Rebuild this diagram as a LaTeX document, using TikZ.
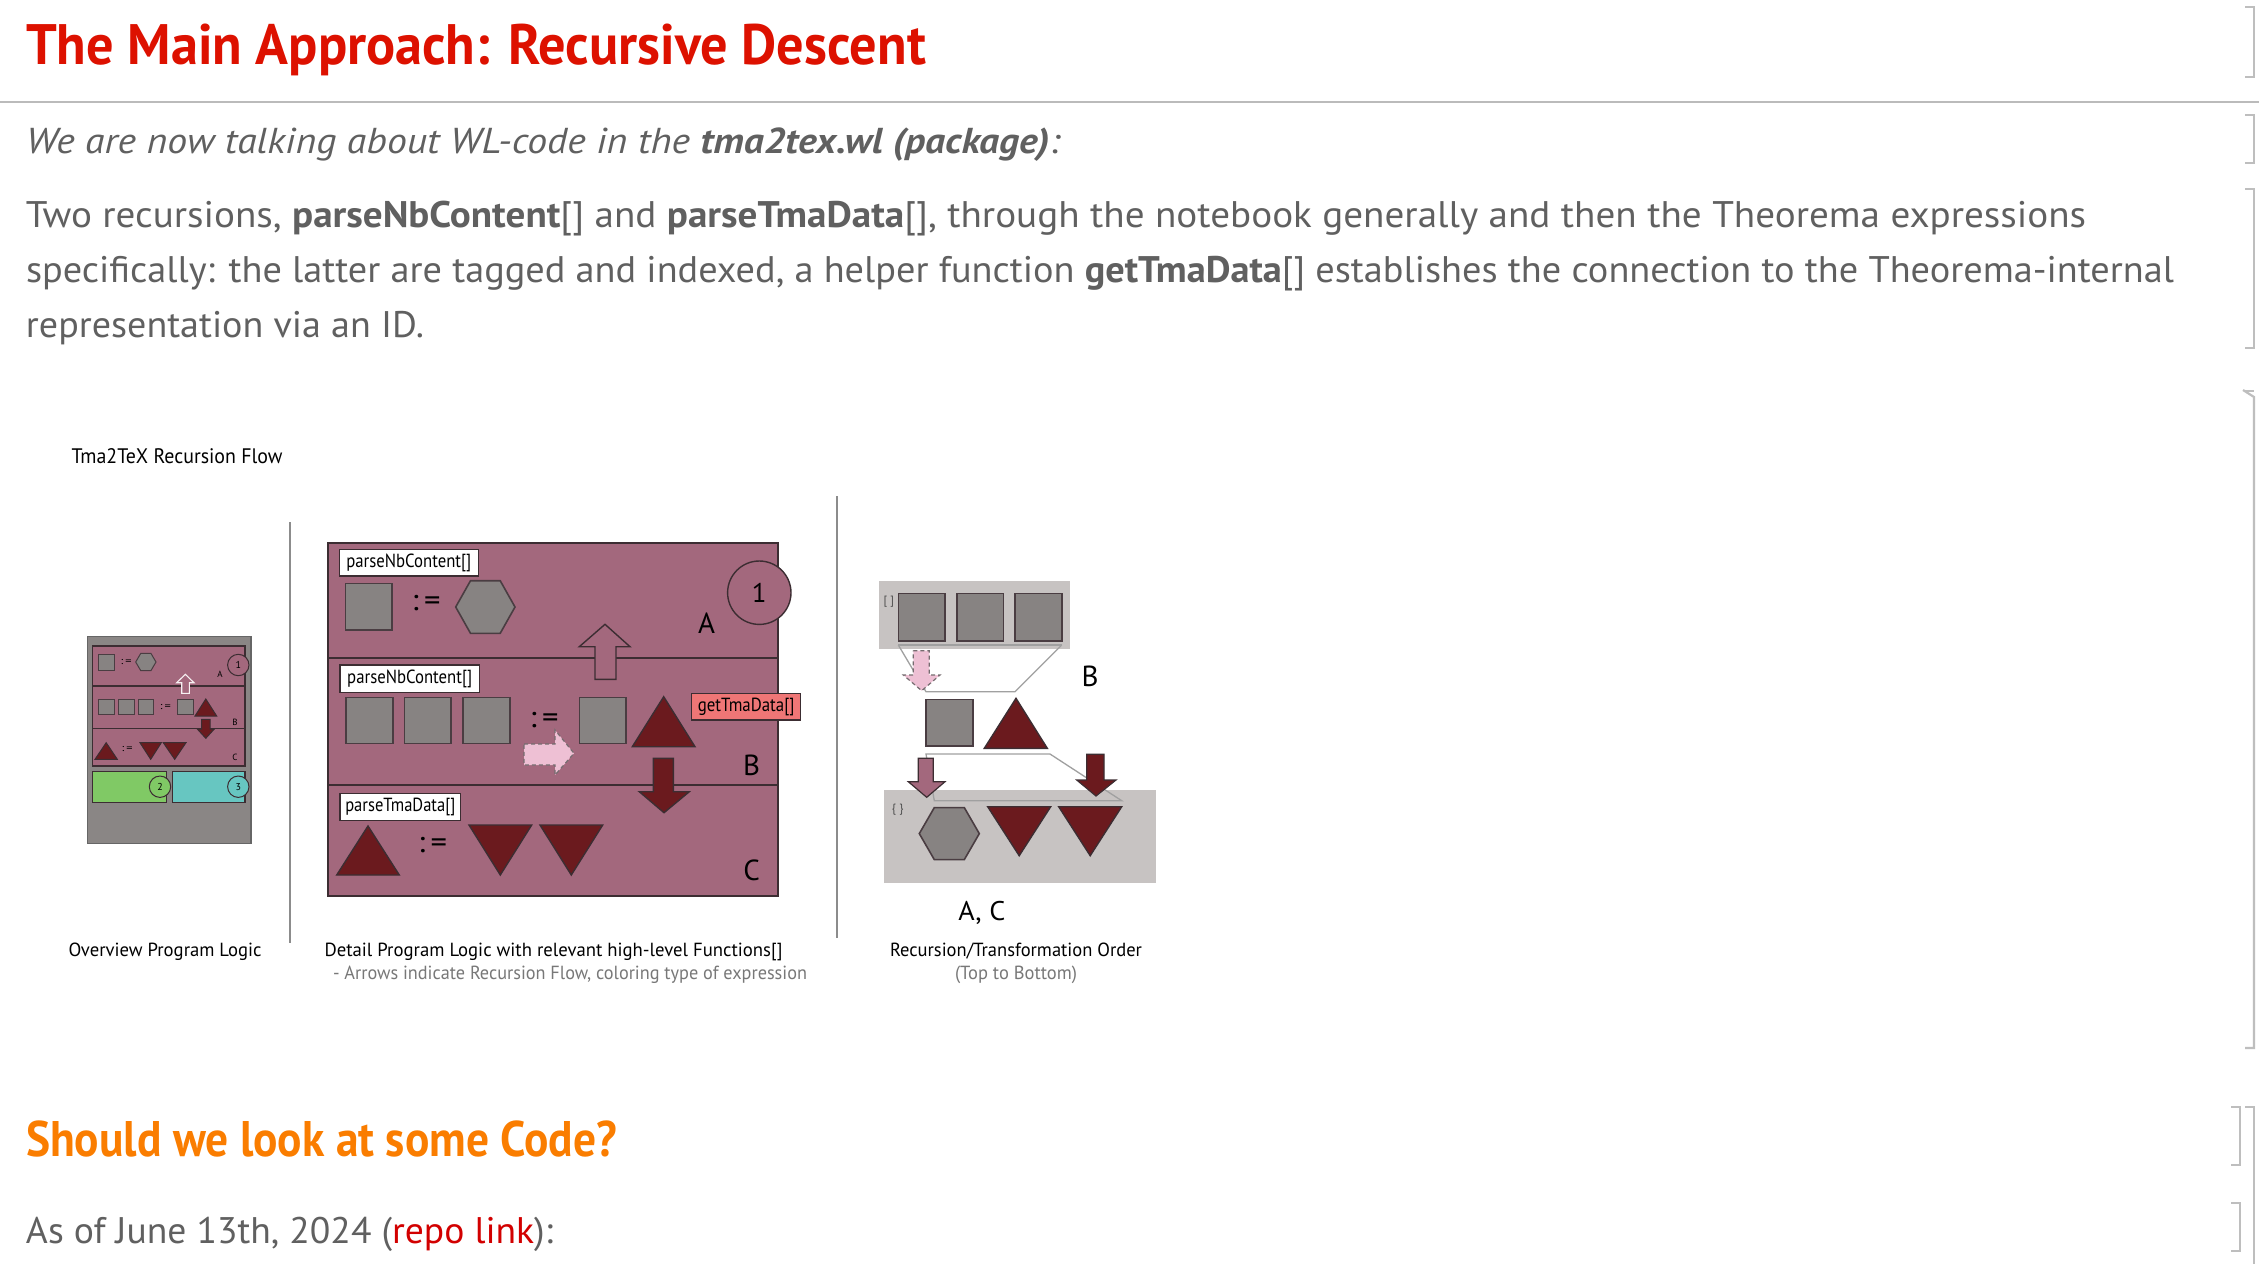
\documentclass[tikz,border=0pt]{standalone}
\usepackage{fontspec}
\setmainfont{PT Sans}
\usepackage{graphicx}
\definecolor{titlered}{RGB}{221,17,0}
\definecolor{bodygray}{RGB}{96,96,96}
\definecolor{sectorange}{RGB}{250,125,0}
\definecolor{linkred}{RGB}{210,0,0}
\definecolor{mauve}{RGB}{163,104,125}
\definecolor{darkred}{RGB}{107,26,30}
\definecolor{shapegray}{RGB}{135,131,130}
\definecolor{boxgray}{RGB}{138,134,133}
\definecolor{lightbox}{RGB}{199,195,194}
\definecolor{greenbox}{RGB}{128,201,101}
\definecolor{cyanbox}{RGB}{103,198,193}
\definecolor{salmon}{RGB}{239,118,118}
\definecolor{lightpink}{RGB}{238,192,212}
\definecolor{outl}{RGB}{60,45,50}
\definecolor{sepgray}{RGB}{140,140,140}
\definecolor{rulegray}{RGB}{187,187,187}
\definecolor{brgray}{RGB}{190,190,190}
\definecolor{capgray}{RGB}{120,120,120}
\definecolor{funnel}{RGB}{160,160,160}
\newcommand{\fitw}[2]{\resizebox{#1}{\height}{#2}}
\begin{document}
\begin{tikzpicture}[x=1pt,y=-1pt,
  txt/.style={anchor=base west, inner sep=0pt, outer sep=0pt},
  ctr/.style={anchor=center, inner sep=0pt, outer sep=0pt},
  panel/.style={fill=mauve, draw=outl, line width=1.8pt},
  gsq/.style={fill=shapegray, draw=outl!80!gray, line width=1.6pt},
  dshape/.style={fill=darkred, draw=outl, line width=1.4pt},
  lbl/.style={draw=outl, fill=white, line width=1.4pt, inner sep=0pt, font=\fontsize{19}{22}\selectfont},
  br/.style={draw=brgray, line width=2.2pt},
  fun/.style={draw=funnel, line width=1.3pt},
  sep/.style={draw=sepgray, line width=2pt},
  pinkarr/.style={fill=lightpink, draw=outl!70, line width=1.2pt, dashed, dash pattern=on 4pt off 3pt}
]
\useasboundingbox (0,0) rectangle (2259,1264);
\fill[white] (0,0) rectangle (2259,1264);

% ---------- notebook text ----------
\node[txt, text=titlered, font=\fontsize{57}{68}\selectfont\bfseries] (title) at (26,64)
  {\fitw{900pt}{The Main Approach: Recursive Descent}};
\draw[draw=rulegray, line width=2.5pt] (0,102) -- (2259,102);
\node[txt, text=bodygray, font=\fontsize{36}{43}\selectfont\itshape] (sub) at (26,153)
  {\fitw{1034pt}{We are now talking about WL-code in the \textbf{tma2tex.wl (package)}:}};
\node[txt, text=bodygray, font=\fontsize{37}{44}\selectfont] (p1) at (26,227)
  {\fitw{2060pt}{Two recursions, \textbf{parseNbContent}[] and \textbf{parseTmaData}[], through the notebook generally and then the Theorema expressions}};
\node[txt, text=bodygray, font=\fontsize{37}{44}\selectfont] (p2) at (26,282)
  {\fitw{2148pt}{specifically: the latter are tagged and indexed, a helper function \textbf{getTmaData}[] establishes the connection to the Theorema-internal}};
\node[txt, text=bodygray, font=\fontsize{37}{44}\selectfont] (p3) at (26,337)
  {\fitw{398pt}{representation via an ID.}};
\node[txt, text=sectorange, font=\fontsize{50}{60}\selectfont\bfseries] (sect) at (26,1156)
  {\fitw{591pt}{Should we look at some Code?}};
\node[txt, text=bodygray, font=\fontsize{37}{44}\selectfont] (asof) at (26,1243)
  {\fitw{527pt}{As of June 13th, 2024 (\textcolor{linkred}{repo link}):}};

% ---------- cell brackets ----------
\draw[br] (2245,7) -- (2254,7) -- (2254,77) -- (2245,77);
\draw[br] (2245,115) -- (2254,115) -- (2254,163) -- (2245,163);
\draw[br] (2245,189) -- (2254,189) -- (2254,348) -- (2245,348);
\draw[br] (2243,390) -- (2254,397) -- (2254,1048) -- (2245,1048);
\draw[br] (2245,391) -- (2254,391);
\draw[br] (2231,1107) -- (2240,1107) -- (2240,1165) -- (2231,1165);
\draw[br] (2245,1107) -- (2254,1107) -- (2254,1264);
\draw[br] (2231,1203) -- (2240,1203) -- (2240,1251) -- (2231,1251);

% ---------- diagram captions ----------
\node[txt, font=\fontsize{21}{25}\selectfont] (flowtitle) at (71.5,463) {\fitw{211pt}{Tma2TeX Recursion Flow}};
\node[txt, font=\fontsize{19}{23}\selectfont] (cap1) at (68.5,956) {\fitw{193pt}{Overview Program Logic}};
\node[txt, font=\fontsize{19}{23}\selectfont] (cap2) at (324.5,956) {\fitw{458pt}{Detail Program Logic with relevant high-level Functions[]}};
\node[txt, font=\fontsize{19}{23}\selectfont, text=capgray] (cap2b) at (333,979) {\fitw{474pt}{- Arrows indicate Recursion Flow, coloring type of expression}};
\node[txt, font=\fontsize{19}{23}\selectfont] (cap3) at (890,956) {\fitw{252pt}{Recursion/Transformation Order}};
\node[txt, font=\fontsize{19}{23}\selectfont, text=capgray] (cap3b) at (955,979) {\fitw{122pt}{(Top to Bottom)}};

% separators
\draw[sep] (290,522) -- (290,943);
\draw[sep] (836.5,496) -- (836.5,938);

% ---------- overview ----------
\draw[fill=boxgray, draw=black!60, line width=1.4pt] (87.3,636.7) rectangle (251,843.3);
\draw[panel, line width=1.2pt] (92.3,646) rectangle (245,766);
\draw[draw=outl, line width=1.2pt] (92.3,686) -- (245,686);
\draw[draw=outl, line width=1.2pt] (92.3,728.7) -- (245,728.7);
% row A
\draw[gsq, line width=1pt] (98.3,654) rectangle (114.3,670);
\node[ctr, font=\fontsize{10}{11}\selectfont] (oa) at (126,661.7) {\fitw{11pt}{:\,=}};
\draw[gsq, line width=1pt] (135.7,662) -- (140.8,653.3) -- (150.9,653.3) -- (156,662) -- (150.9,670.7) -- (140.8,670.7) -- cycle;
\node[ctr, font=\fontsize{9}{10}\selectfont] (oA) at (220,674) {A};
% up arrow (hollow)
\draw[fill=mauve, draw=white!90!mauve, line width=1.1pt] (185.3,674.3) -- (194,682.7) -- (189.3,682.7) -- (189.3,693.3) -- (181.7,693.3) -- (181.7,682.7) -- (176.7,682.7) -- cycle;
% row B
\draw[gsq, line width=1pt] (98.3,699) rectangle (114.3,714.7);
\draw[gsq, line width=1pt] (118.3,699) rectangle (134,714.7);
\draw[gsq, line width=1pt] (138,699) rectangle (153.7,714.7);
\node[ctr, font=\fontsize{10}{11}\selectfont] (ob) at (165.3,706.7) {\fitw{11pt}{:\,=}};
\draw[gsq, line width=1pt] (177.3,699) rectangle (193.3,714.7);
\draw[dshape, line width=1pt] (205.8,699) -- (216.7,716) -- (195,716) -- cycle;
\node[ctr, font=\fontsize{9}{10}\selectfont] (oB) at (235,722.7) {B};
\draw[dshape, line width=1pt] (201.7,719.3) -- (210,719.3) -- (210,729) -- (214.3,729) -- (205.8,738.3) -- (197.3,729) -- (201.7,729) -- cycle;
% row C
\draw[dshape, line width=1pt] (106.2,742.7) -- (117.3,759.3) -- (95,759.3) -- cycle;
\node[ctr, font=\fontsize{10}{11}\selectfont] (oc) at (127.2,749) {\fitw{11pt}{:\,=}};
\draw[dshape, line width=1pt] (140,742.7) -- (161.3,742.7) -- (150.7,759.3) -- cycle;
\draw[dshape, line width=1pt] (163.3,742.7) -- (186,742.7) -- (174.7,759.3) -- cycle;
\node[ctr, font=\fontsize{9}{10}\selectfont] (oC) at (235,757.3) {C};
\node[circle, draw=outl, fill=mauve, line width=1pt, minimum size=21.4pt, inner sep=0pt, font=\fontsize{10}{11}\selectfont] (o1) at (238.3,665) {1};
% green and cyan
\draw[fill=greenbox, draw=outl, line width=1.2pt] (92.3,771.7) rectangle (166.7,802.3);
\draw[fill=cyanbox, draw=outl, line width=1.2pt] (172.3,771.7) rectangle (245,802.3);
\node[circle, draw=outl, fill=greenbox, line width=1pt, minimum size=21.4pt, inner sep=0pt, font=\fontsize{10}{11}\selectfont] (o2) at (160,786.7) {2};
\node[circle, draw=outl, fill=cyanbox, line width=1pt, minimum size=21.4pt, inner sep=0pt, font=\fontsize{10}{11}\selectfont] (o3) at (238.3,786.7) {3};

% ---------- detail ----------
\draw[panel] (328.3,542.7) rectangle (778.3,896);
\draw[draw=outl, line width=1.8pt] (328.3,658.3) -- (778.3,658.3);
\draw[draw=outl, line width=1.8pt] (328.3,785) -- (778.3,785);
\node[lbl, minimum width=139pt, minimum height=26.7pt] (pnc1) at (408.8,562.7) {\fitw{125pt}{parseNbContent[]}};
\node[lbl, minimum width=139.3pt, minimum height=27.3pt] (pnc2) at (409.7,678.7) {\fitw{125pt}{parseNbContent[]}};
\node[lbl, minimum width=120.7pt, minimum height=27.4pt] (ptd) at (400.3,807) {\fitw{110pt}{parseTmaData[]}};
% row A
\draw[gsq] (345.3,583.3) rectangle (391.7,630);
\node[ctr, font=\fontsize{30}{34}\selectfont] (da) at (426.2,603) {\fitw{29pt}{:\,=}};
\draw[gsq] (455.7,607) -- (470.5,580.7) -- (500.2,580.7) -- (515,607) -- (500.2,633.3) -- (470.5,633.3) -- cycle;
\node[ctr, font=\fontsize{29}{34}\selectfont] (dA) at (706.5,623.3) {A};
\node[circle, draw=outl, fill=mauve, line width=1.4pt, minimum size=63.4pt, inner sep=0pt, font=\fontsize{27}{32}\selectfont] (d1) at (759.3,592.7) {1};
% hollow up arrow
\draw[fill=mauve, draw=outl, line width=1.4pt] (605,624.3) -- (630,646.7) -- (616,646.7) -- (616,679.3) -- (595,679.3) -- (595,646.7) -- (579.3,646.7) -- cycle;
% row B
\draw[gsq] (346,697.3) rectangle (392.7,743.3);
\draw[gsq] (404.3,697.3) rectangle (451,743.3);
\draw[gsq] (463,697.3) rectangle (509.7,743.3);
\node[ctr, font=\fontsize{30}{34}\selectfont] (db) at (544.2,720) {\fitw{29pt}{:\,=}};
\draw[gsq] (579.3,697.3) rectangle (626,743.3);
\draw[dshape] (663.7,696.7) -- (695,746.7) -- (632.3,746.7) -- cycle;
\node[lbl, fill=salmon, minimum width=109pt, minimum height=26.7pt] (gtd) at (746.2,706.7) {\fitw{96.7pt}{getTmaData[]}};
\draw[pinkarr] (524,744) -- (555,744) -- (555,730) -- (574,753.3) -- (555,775) -- (555,765) -- (524,765) -- cycle;
\node[ctr, font=\fontsize{29}{34}\selectfont] (dB) at (751.7,765) {B};
\draw[dshape] (653.3,758.3) -- (673.3,758.3) -- (673.3,791.7) -- (689.3,791.7) -- (664,812.7) -- (639.3,791.7) -- (653.3,791.7) -- cycle;
% row C
\draw[dshape] (368,826) -- (399.3,875) -- (336.7,875) -- cycle;
\node[ctr, font=\fontsize{30}{34}\selectfont] (dc) at (432.5,845) {\fitw{29pt}{:\,=}};
\draw[dshape] (469,825) -- (531.7,825) -- (500.3,875) -- cycle;
\draw[dshape] (540,825) -- (602.7,825) -- (571.3,875) -- cycle;
\node[ctr, font=\fontsize{29}{34}\selectfont] (dC) at (751.7,870) {C};

% ---------- recursion order ----------
\fill[lightbox] (879,581) rectangle (1070,649.3);
\node[ctr, font=\fontsize{12}{14}\selectfont, text=black!70] (brk) at (888.8,601.7) {[ ]};
\draw[gsq] (898.3,593.3) rectangle (945,640.7);
\draw[gsq] (956.7,593.3) rectangle (1003.3,640.7);
\draw[gsq] (1015,593.3) rectangle (1061.7,640.7);
\draw[fun] (898.3,645) -- (1061.7,645);
\draw[fun] (898.3,645) -- (926,691.7) -- (1015,691.7) -- (1061.7,645);
\draw[pinkarr] (913.3,650.7) -- (929.3,650.7) -- (929.3,675) -- (940,675) -- (921.7,690.7) -- (903.3,675) -- (913.3,675) -- cycle;
\node[ctr, font=\fontsize{29}{34}\selectfont] (rB) at (1090,676.7) {B};
\draw[gsq] (926,699.3) rectangle (972.7,746);
\draw[dshape] (1016,698.3) -- (1047.3,748.3) -- (984.3,748.3) -- cycle;
\fill[lightbox] (884,790) rectangle (1156,883.3);
\draw[fun] (926,754) -- (1050,754) -- (1121.7,800.7) -- (934.3,800.7) -- cycle;
\draw[fill=mauve, draw=outl, line width=1.2pt] (918.3,758.3) -- (933.3,758.3) -- (933.3,781.7) -- (945,781.7) -- (926.7,797.3) -- (908.3,781.7) -- (918.3,781.7) -- cycle;
\draw[dshape, line width=1.2pt] (1086.7,754.3) -- (1104,754.3) -- (1104,780) -- (1116,780) -- (1096,796) -- (1076.7,780) -- (1086.7,780) -- cycle;
\node[ctr, font=\fontsize{12}{14}\selectfont, text=black!70] (brc) at (897.7,810) {\{ \}};
\draw[gsq] (919.3,833.6) -- (934.3,807.6) -- (964.3,807.6) -- (979.3,833.6) -- (964.3,859.6) -- (934.3,859.6) -- cycle;
\draw[dshape] (987.7,806.7) -- (1050.7,806.7) -- (1019.2,855.7) -- cycle;
\draw[dshape] (1058.7,806.7) -- (1121.7,806.7) -- (1090.2,855.7) -- cycle;
\node[txt, font=\fontsize{27}{32}\selectfont] (rAC) at (958.3,920) {\fitw{47pt}{A, C}};
\end{tikzpicture}
\end{document}
